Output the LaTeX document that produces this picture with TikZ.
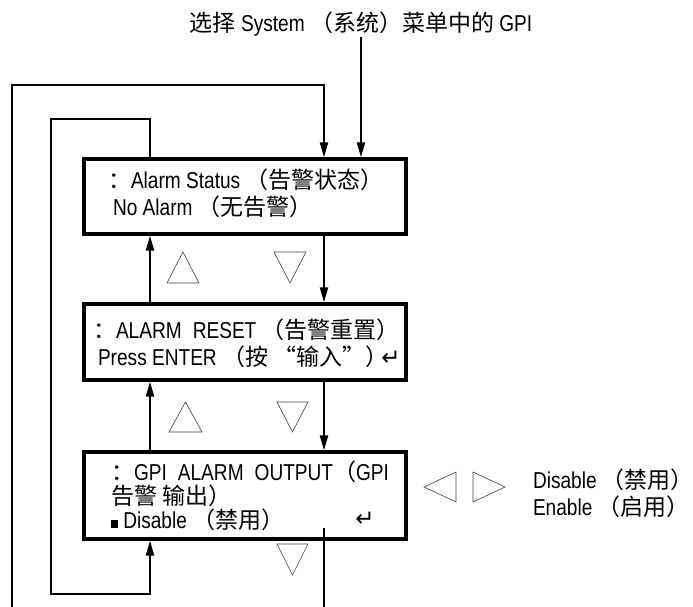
\documentclass[tikz,border=0pt]{standalone}
\usepackage{fontspec}
\setmainfont{Liberation Sans}[FakeStretch=0.83]
\newfontfamily\cjk{Noto Sans CJK SC}[Scale=1.0]
\newfontfamily\symfont{DejaVu Sans}[Scale=1.0]
\usetikzlibrary{calc,arrows.meta,positioning}

\begin{document}
\begin{tikzpicture}[x=1pt,y=-1pt,>={Triangle[length=15pt,width=8pt]},line width=2pt,
  every node/.style={font=\fontsize{23}{27}\selectfont,inner sep=0pt},
  menubox/.style={draw,line width=3.2pt,minimum width=322pt},
  boxtext/.style={anchor=west,align=left},
  navtri/.style={line width=0.6pt,draw=black!75,line join=miter}]
  \useasboundingbox (0,0) rectangle (693,607);

  % Columns of the connectors
  \coordinate (upcol) at (150,0);
  \coordinate (dncol) at (324,0);
  \coordinate (inL) at (51,0);

  % --- Entry ---
  \node (menu) at (361,24) {{\cjk 选择} System {\cjk （系统）菜单中的} GPI};

  % --- Menu boxes ---
  \node[menubox,minimum height=75pt] (status) at (245,196.5) {};
  \node[boxtext] (statustxt) at (107,193.5)
    {{\cjk ：}Alarm Status {\cjk （告警状态）}\\\hspace{5pt}No Alarm {\cjk （无告警）}};

  \node[menubox,minimum height=76pt] (reset) at (245,342) {};
  \node[boxtext] (resettxt) at (92,343.5)
    {{\cjk ：}ALARM\hspace{11pt}RESET {\cjk （告警重置）}\\\hspace{5pt}Press ENTER {\cjk （按 “输入”）}\hspace{-7pt}{\symfont ↵}};

  \node[menubox,minimum height=87pt] (gpiout) at (245,495.5) {};
  \node[boxtext,font=\fontsize{23}{24}\selectfont] (gpitxt) at (110,495.5)
    {{\cjk ：}GPI\hspace{11pt}ALARM\hspace{11pt}OUTPUT{\cjk （}GPI\\{\cjk 告警 输出）}\\\rule{7pt}{8pt} Disable {\cjk （禁用）}};
  \node (gpienter) at (365,519) {\symfont ↵};

  % --- Choices ---
  \node[boxtext] (choices) at (532,493.5) {Disable {\cjk （禁用）}\\Enable {\cjk （启用）}};

  % --- Up / down keys ---
  \draw[navtri] (167,283) -- (183,252) -- (199,283) -- cycle;
  \draw[navtri] (274,252) -- (290,283) -- (306,252) -- cycle;
  \draw[navtri] (169,432) -- (185.5,402) -- (202,432) -- cycle;
  \draw[navtri] (277,402) -- (292.5,432) -- (308,402) -- cycle;
  \draw[navtri] (277,544) -- (292.5,575) -- (308,544) -- cycle;
  % --- Left / right keys ---
  \draw[navtri] (456,472) -- (424,487) -- (456,502) -- cycle;
  \draw[navtri] (473,472) -- (505,487) -- (473,502) -- cycle;

  % --- Connectors ---
  \draw[->] (menu.south) -- (status.north -| menu.south);
  \draw[->] (status.south -| dncol) -- (reset.north -| dncol);
  \draw[->] (reset.south -| dncol) -- (gpiout.north -| dncol);
  \draw[->] (reset.north -| upcol) -- (status.south -| upcol);
  \draw[->] (gpiout.north -| upcol) -- (reset.south -| upcol);
  % loop from the first menu back to the last one
  \draw[->] (status.north -| upcol) -- ++(0,-38) -| ($(gpiout.south -| inL)+(0,53)$) -| (gpiout.south -| upcol);
  % wrap round from the last menu to the first one
  \coordinate (exitstart) at ($(gpiout.south -| dncol)+(0,-13)$);
  \coordinate (exitend) at (324,607);
  \coordinate (loopstart) at (12,607);
  \draw (exitstart) -- (exitend);
  \draw[->] (loopstart) |- ($(status.north -| dncol)+(0,-72)$) -- (status.north -| dncol);
\end{tikzpicture}
\end{document}
